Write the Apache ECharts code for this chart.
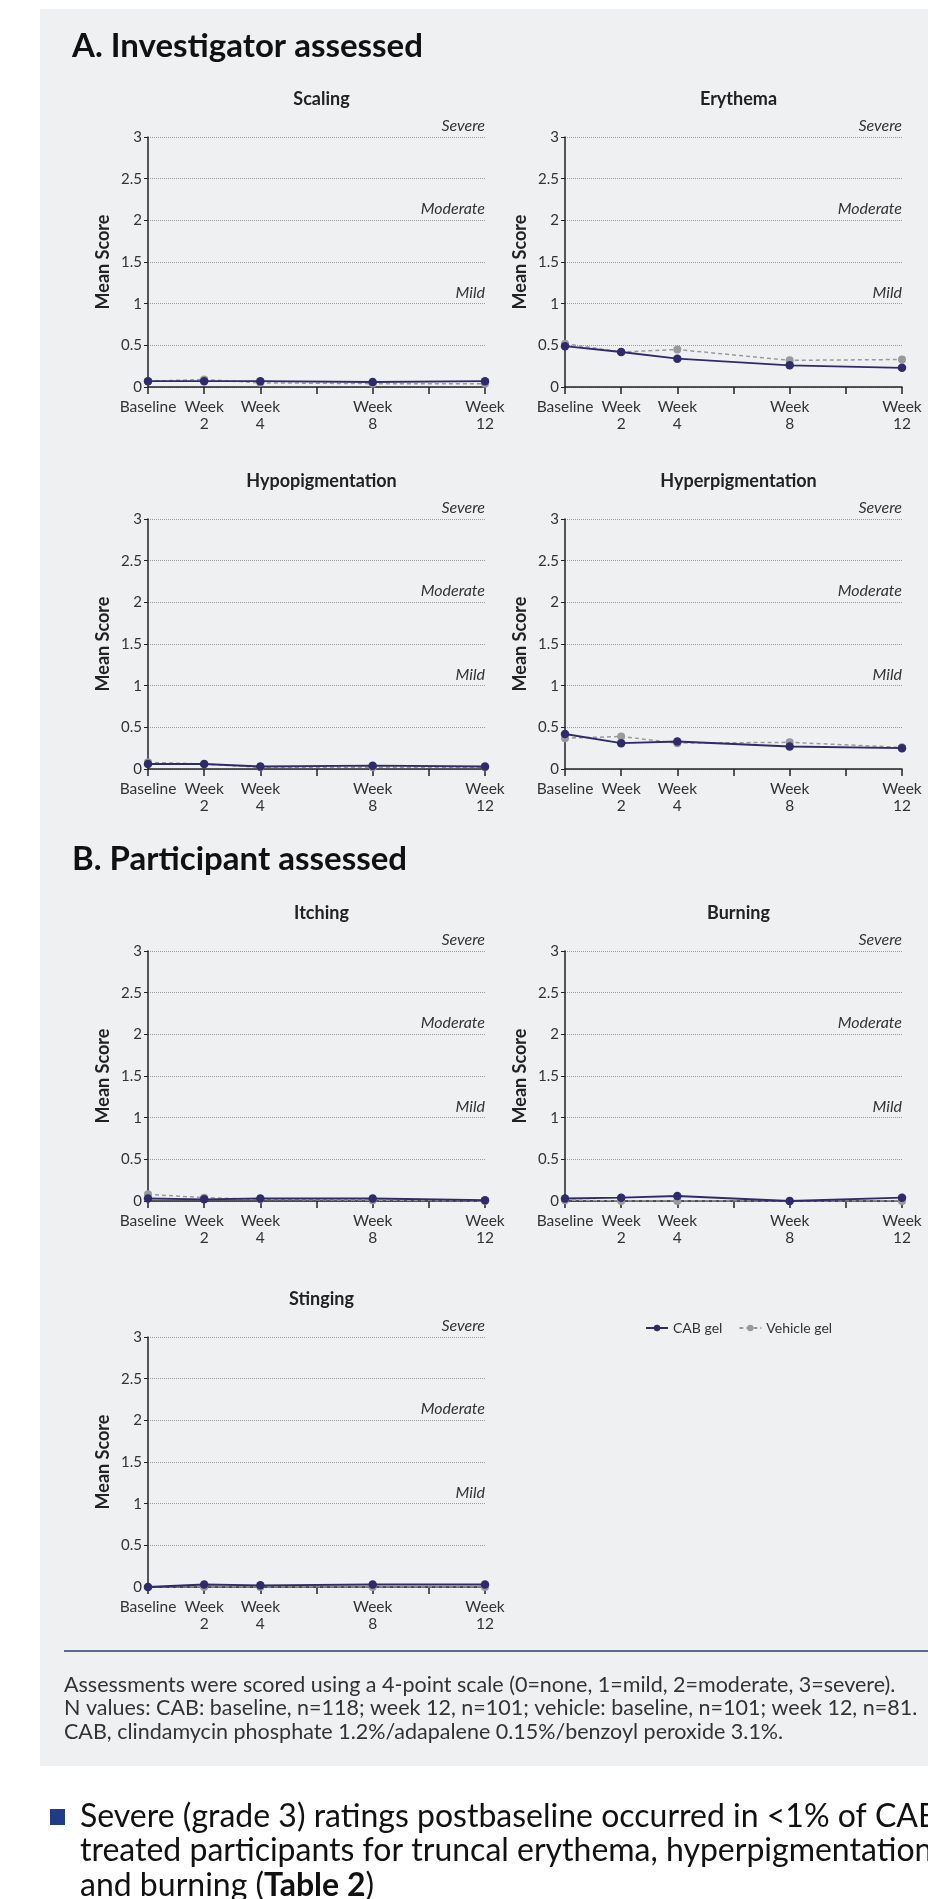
<!DOCTYPE html>
<html>
<head>
<meta charset="utf-8">
<script src="https://cdn.jsdelivr.net/npm/echarts@6/dist/echarts.min.js"></script>
<style>
html,body{margin:0;padding:0;background:#ffffff;}
#chart{width:928px;height:1899px;}
</style>
</head>
<body>
<div id="chart"></div>
<script>
// ---- data ----
const weeks = [0, 2, 4, 8, 12];
const xTickLabels = {0: 'Baseline', 2: 'Week\n2', 4: 'Week\n4', 8: 'Week\n8', 12: 'Week\n12'};
const panelTitles = ['Scaling', 'Erythema', 'Hypopigmentation', 'Hyperpigmentation', 'Itching', 'Burning', 'Stinging'];
const scalingCAB = [0.07, 0.07, 0.07, 0.06, 0.07];
const scalingVehicle = [0.07, 0.09, 0.05, 0.04, 0.04];
const erythemaCAB = [0.49, 0.42, 0.34, 0.26, 0.23];
const erythemaVehicle = [0.52, 0.42, 0.45, 0.32, 0.33];
const hypopigCAB = [0.06, 0.06, 0.03, 0.04, 0.03];
const hypopigVehicle = [0.08, 0.06, 0.02, 0.02, 0.02];
const hyperpigCAB = [0.42, 0.31, 0.33, 0.27, 0.25];
const hyperpigVehicle = [0.37, 0.39, 0.31, 0.32, 0.26];
const itchingCAB = [0.03, 0.02, 0.03, 0.03, 0.01];
const itchingVehicle = [0.08, 0.04, 0.02, 0.01, 0.0];
const burningCAB = [0.03, 0.04, 0.06, 0.0, 0.04];
const burningVehicle = [0.01, 0.0, 0.0, 0.0, 0.0];
const stingingCAB = [0.0, 0.03, 0.02, 0.03, 0.03];
const stingingVehicle = [0.0, 0.0, 0.0, 0.0, 0.0];
const severityLevels = [1, 2, 3];
const severityNames = ['Mild', 'Moderate', 'Severe'];
const seriesNames = ['CAB gel', 'Vehicle gel'];

const cabData = [scalingCAB, erythemaCAB, hypopigCAB, hyperpigCAB, itchingCAB, burningCAB, stingingCAB];
const vehData = [scalingVehicle, erythemaVehicle, hypopigVehicle, hyperpigVehicle, itchingVehicle, burningVehicle, stingingVehicle];

// ---- layout ----
const FONT = 'Lato, "Noto Sans", sans-serif';
const colLeft = [148, 565];
const rowTop = [137, 519, 951, 1337];
const plotW = 337, plotH = 250;
const CAB_COLOR = '#2e2a6b';
const VEH_COLOR = '#9a9a9a';

const grids = [], xAxes = [], yAxes = [], series = [], titles = [];
panelTitles.forEach((t, i) => {
  const col = i % 2, row = Math.floor(i / 2);
  const left = colLeft[col], top = rowTop[row];
  grids.push({left: left, top: top, width: plotW, height: plotH, containLabel: false});
  titles.push({
    text: t, left: left + plotW / 2, top: top - 52, textAlign: 'center',
    textStyle: {fontFamily: FONT, fontSize: 18, fontWeight: 'bold', color: '#222'}
  });
  xAxes.push({
    type: 'value', gridIndex: i, min: 0, max: 12, interval: 2,
    axisLine: {show: true, onZero: false, lineStyle: {color: '#222', width: 1.5}},
    axisTick: {show: true, length: 7, lineStyle: {color: '#222', width: 1.5}},
    axisLabel: {
      fontFamily: FONT, fontSize: 15.5, color: '#333', lineHeight: 17, margin: 11,
      formatter: v => xTickLabels[v] !== undefined ? xTickLabels[v] : ''
    },
    splitLine: {show: false}
  });
  yAxes.push({
    type: 'value', gridIndex: i, min: 0, max: 3, interval: 0.5,
    name: 'Mean Score', nameLocation: 'middle', nameGap: 36, nameRotate: 90,
    nameTextStyle: {fontFamily: FONT, fontSize: 18, fontWeight: 'bold', color: '#222'},
    axisLine: {show: true, lineStyle: {color: '#222', width: 1.5}},
    axisTick: {show: true, length: 4, lineStyle: {color: '#222'}},
    axisLabel: {fontFamily: FONT, fontSize: 15, color: '#333', margin: 6},
    splitLine: {show: true, lineStyle: {color: '#9a9a9a', type: 'dotted', width: 1}}
  });
  series.push({
    name: seriesNames[1], type: 'line', xAxisIndex: i, yAxisIndex: i,
    data: weeks.map((w, k) => [w, vehData[i][k]]),
    symbol: 'circle', symbolSize: 8, z: 2,
    itemStyle: {color: VEH_COLOR},
    lineStyle: {color: VEH_COLOR, width: 1.5, type: [4, 3]},
    animation: false
  });
  series.push({
    name: seriesNames[0], type: 'line', xAxisIndex: i, yAxisIndex: i,
    data: weeks.map((w, k) => [w, cabData[i][k]]),
    symbol: 'circle', symbolSize: 8.5, z: 3,
    itemStyle: {color: CAB_COLOR},
    lineStyle: {color: CAB_COLOR, width: 1.8},
    animation: false,
    markLine: {
      silent: true, symbol: 'none', animation: false,
      lineStyle: {color: 'rgba(0,0,0,0)', width: 0, type: 'solid'},
      label: {
        show: true, position: 'insideEndTop', distance: [0, 3],
        fontFamily: FONT, fontSize: 16, fontStyle: 'italic', color: '#333'
      },
      data: severityLevels.map((lv, k) => ({yAxis: lv, label: {formatter: severityNames[k]}}))
    }
  });
});

const graphics = [
  {type: 'rect', left: 40, top: 9, shape: {width: 888, height: 1757}, style: {fill: '#eff0f2'}, z: -10},
  {type: 'text', left: 72, top: 30, style: {text: 'A. Investigator assessed', font: 'bold 33px ' + FONT, fill: '#111'}},
  {type: 'text', left: 72, top: 843, style: {text: 'B. Participant assessed', font: 'bold 33px ' + FONT, fill: '#111'}},
  {type: 'line', shape: {x1: 64, y1: 1651, x2: 928, y2: 1651}, style: {stroke: '#2d3e6e', lineWidth: 1.5}},
  {type: 'text', left: 64, top: 1673, style: {
    text: 'Assessments were scored using a 4-point scale (0=none, 1=mild, 2=moderate, 3=severe).\nN values: CAB: baseline, n=118; week 12, n=101; vehicle: baseline, n=101; week 12, n=81.\nCAB, clindamycin phosphate 1.2%/adapalene 0.15%/benzoyl peroxide 3.1%.',
    font: '21.5px ' + FONT, fill: '#333', lineHeight: 23.7}},
  {type: 'rect', left: 50, top: 1809, shape: {width: 15, height: 16}, style: {fill: '#1f3c88'}},
  {type: 'text', left: 80, top: 1799, style: {
    rich: {b: {font: 'bold 32px ' + FONT, fill: '#111'}},
    text: 'Severe (grade 3) ratings postbaseline occurred in <1% of CAB gel–\ntreated participants for truncal erythema, hyperpigmentation,\nand burning ({b|Table 2})',
    font: '32px ' + FONT, fill: '#111', lineHeight: 34.5}}
];

const chart = echarts.init(document.getElementById('chart'), null, {renderer: 'canvas'});
chart.setOption({
  animation: false,
  backgroundColor: '#ffffff',
  title: titles,
  grid: grids,
  xAxis: xAxes,
  yAxis: yAxes,
  series: series,
  legend: {
    data: seriesNames, left: 640, top: 1316, itemWidth: 22, itemHeight: 8, itemGap: 16,
    textStyle: {fontFamily: FONT, fontSize: 14, color: '#333'}
  },
  graphic: graphics
});
</script>
</body>
</html>
